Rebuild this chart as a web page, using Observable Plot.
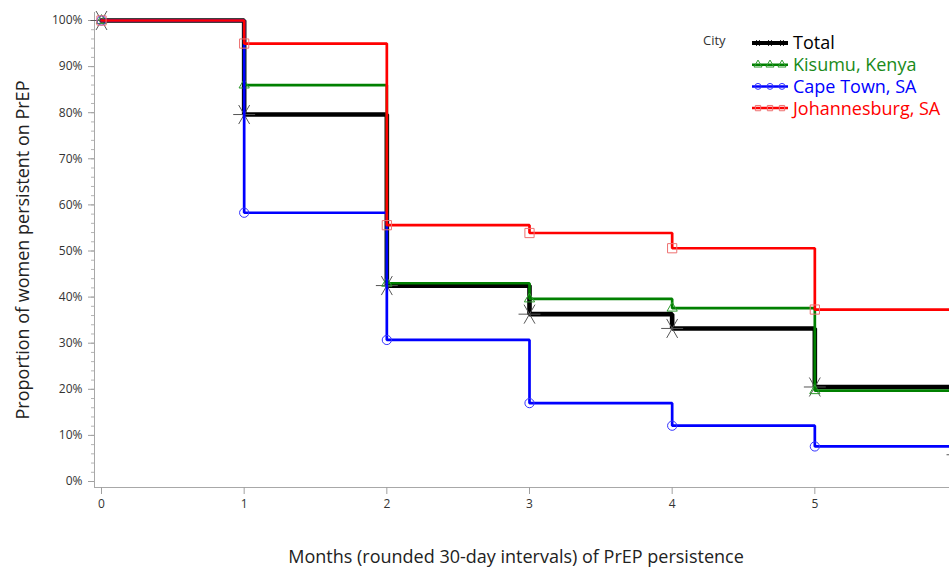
<!DOCTYPE html>
<html><head><meta charset="utf-8">
<script src="https://cdn.jsdelivr.net/npm/d3@7"></script>
<script src="https://cdn.jsdelivr.net/npm/@observablehq/plot@0.6"></script>
<style>
html,body{margin:0;padding:0;overflow:hidden;background:#fff}
#wrap{position:relative;width:949px;height:569px;overflow:hidden;font-family:"Open Sans",sans-serif;background:#fff}
#chart{position:absolute;left:0;top:0;width:1000px}
#chart svg{max-width:none !important}
#chart svg text{font-size:12px;font-family:"Open Sans",sans-serif}
.ylab{position:absolute;left:22px;top:250px;transform:translate(-50%,-50%) rotate(-90deg);white-space:nowrap;font-size:18px;color:#222}
.xlab{position:absolute;left:516px;top:556px;transform:translate(-50%,-50%);white-space:nowrap;font-size:18px;color:#222}
.legtitle{position:absolute;left:703px;top:31px;font-size:13px;color:#333}
#legend{position:absolute;left:750px;top:32px}
</style></head><body>
<div id="wrap"><div id="chart"></div>
<div class="ylab">Proportion of women persistent on PrEP</div>
<div class="xlab">Months (rounded 30-day intervals) of PrEP persistence</div>
<div class="legtitle">City</div>
<div id="legend"></div>
</div>
<script>
// ---- data ----
const months = [0, 1, 2, 3, 4, 5, 6];
const cities = ["Total", "Kisumu, Kenya", "Cape Town, SA", "Johannesburg, SA"];
const total        = [1.000, 0.796, 0.425, 0.363, 0.332, 0.205, 0.058];
const kisumu       = [1.000, 0.860, 0.430, 0.396, 0.376, 0.197, 0.197];
const capeTown     = [1.000, 0.583, 0.307, 0.170, 0.121, 0.076, 0.076];
const johannesburg = [1.000, 0.950, 0.556, 0.539, 0.506, 0.373, 0.373];
const xTicks = [0, 1, 2, 3, 4, 5];
const yTicks = [0, 0.1, 0.2, 0.3, 0.4, 0.5, 0.6, 0.7, 0.8, 0.9, 1.0];
const yMinorTicks = d3.range(0, 51).map(i => i / 50);

const values = [total, kisumu, capeTown, johannesburg];
const lineColors = ["#000000", "#008000", "#0000ff", "#ff0000"];
const markColors = ["#555555", "#2e9a2e", "#3333ff", "#ee7070"];
const symbols = ["asterisk", "triangle", "circle", "square"];
const lineWidths = [4.6, 2.7, 2.7, 2.7];
const markR = [10.4, 3.8, 4.6, 5.2];
const textColors = ["#000000", "#1a8a1a", "#0000ff", "#ff0000"];

const rows = cities.map((c, i) => months.map((m, j) => ({city: c, month: m, value: values[i][j]})));

const seriesMarks = [];
cities.forEach((c, i) => {
  seriesMarks.push(Plot.line(rows[i], {x: "month", y: "value", curve: "step-after",
    stroke: lineColors[i], strokeWidth: lineWidths[i], strokeLinejoin: "miter"}));
  seriesMarks.push(Plot.dot(rows[i], {x: "month", y: "value", symbol: symbols[i], r: markR[i],
    stroke: markColors[i], fill: "none", strokeWidth: 1, rotate: i === 0 ? 90 : 0}));
});

const plot = Plot.plot({
  width: 1000, height: 569,
  marginLeft: 94, marginRight: 0, marginTop: 12, marginBottom: 82,
  x: {domain: [0, 6], range: [101, 957]},
  y: {domain: [0, 1], range: [481, 20]},
  style: {fontFamily: "'Open Sans', sans-serif", fontSize: "12px", background: "white", overflow: "visible", maxWidth: "none"},
  marks: [
    Plot.frame({anchor: "left", stroke: "#a8a8a8"}),
    Plot.frame({anchor: "bottom", stroke: "#a8a8a8"}),
    Plot.axisY({ticks: yMinorTicks, tickSize: 3, fill: "none", stroke: "#b4b4b4", label: null}),
    Plot.axisY({ticks: yTicks, tickSize: 6, tickPadding: 6, tickFormat: d => Math.round(d * 100) + "%",
      stroke: "#a0a0a0", fill: "#333", fontSize: 12, label: null}),
    Plot.axisX({ticks: xTicks, tickSize: 7, tickPadding: 5, tickFormat: d => String(d),
      stroke: "#a0a0a0", fill: "#333", fontSize: 12, label: null}),
    ...seriesMarks
  ]
});
document.getElementById("chart").appendChild(plot);

// ---- legend ----
const symMap = {asterisk: d3.symbolAsterisk, triangle: d3.symbolTriangle, circle: d3.symbolCircle, square: d3.symbolSquare};
const rowH = 21.7;
const leg = d3.create("svg").attr("width", 200).attr("height", 90)
  .style("font-family", "'Open Sans', sans-serif").style("overflow", "visible");
cities.forEach((c, i) => {
  const g = leg.append("g").attr("transform", `translate(0,${11 + i * rowH})`);
  g.append("line").attr("x1", 2).attr("x2", 38).attr("y1", 0).attr("y2", 0)
    .attr("stroke", lineColors[i]).attr("stroke-width", i === 0 ? 4 : 2.5);
  [8, 20, 32].forEach(x => {
    g.append("path").attr("transform", `translate(${x},0) rotate(${i === 0 ? 90 : 0})`)
      .attr("d", d3.symbol(symMap[symbols[i]], i === 0 ? 30 : 28)())
      .attr("fill", "none").attr("stroke", i === 0 ? "#000" : markColors[i]).attr("stroke-width", 1);
  });
  g.append("text").attr("x", 43).attr("y", 0).attr("dy", "0.36em")
    .attr("font-size", 18).attr("fill", textColors[i]).text(c);
});
document.getElementById("legend").appendChild(leg.node());
</script>
</body></html>
